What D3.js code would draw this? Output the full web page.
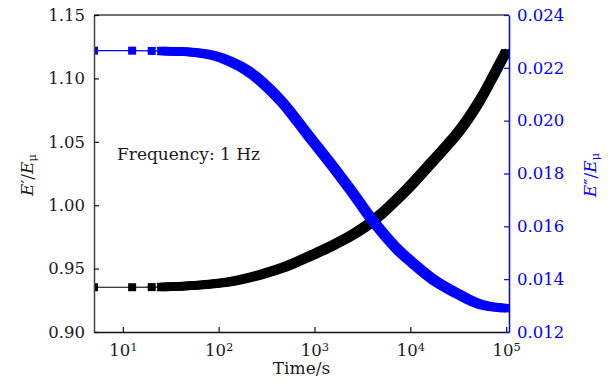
<!DOCTYPE html>
<html>
<head>
<meta charset="utf-8">
<script src="https://cdn.jsdelivr.net/npm/d3@7"></script>
<style>
	body { margin: 0; background: #fff; }
	svg { display: block; font-family: 'DejaVu Serif', serif; }
</style>
</head>
<body>
<div id="chart"></div>
<script>
// data
const times = [5, 12.5, 20, 25, 30, 40, 60, 90, 130, 200, 270, 440, 560, 710, 970, 1460, 1850, 2600, 3500, 5000, 7800, 10000, 17000, 31000, 39000, 54000, 68000, 98000];
const storage = [0.9353, 0.9353, 0.9354, 0.9354, 0.9356, 0.9360, 0.9369, 0.9380, 0.9394, 0.9424, 0.9450, 0.9500, 0.9530, 0.9564, 0.9611, 0.9672, 0.9712, 0.9775, 0.9836, 0.9928, 1.0070, 1.0150, 1.0345, 1.0562, 1.0668, 1.0830, 1.0972, 1.1200];
const loss = [0.02265, 0.02265, 0.02264, 0.02264, 0.02263, 0.02262, 0.02258, 0.02248, 0.02227, 0.02192, 0.02154, 0.0208, 0.02033, 0.01984, 0.0192, 0.0184, 0.0179, 0.0172, 0.0165, 0.0158, 0.0150, 0.01470, 0.01395, 0.01345, 0.01325, 0.01302, 0.01296, 0.0129];

const xTicks = [10, 100, 1000, 10000, 100000];
const leftTicks = [0.90, 0.95, 1.00, 1.05, 1.10, 1.15];
const rightTicks = [0.012, 0.014, 0.016, 0.018, 0.020, 0.022, 0.024];

const width = 614;
const height = 389;
const margin = { top: 15, right: 105, bottom: 57, left: 94 };
const firstBand = 3; // markers before this index are drawn separately
const blue = '#0000ff';
const ink = '#1a1a1a';

const x = d3.scaleLog()
	.domain([5, 107000])
	.range([margin.left, width - margin.right]);

const yLeft = d3.scaleLinear()
	.domain([0.90, 1.15])
	.range([height - margin.bottom, margin.top]);

const yRight = d3.scaleLinear()
	.domain([0.012, 0.024])
	.range([height - margin.bottom, margin.top]);

const svg = d3.select('#chart')
	.append('svg')
	.attr('width', width)
	.attr('height', height);

svg.append('clipPath')
	.attr('id', 'plot-clip')
	.append('rect')
	.attr('x', margin.left)
	.attr('y', margin.top)
	.attr('width', width - margin.left - margin.right)
	.attr('height', height - margin.top - margin.bottom);

// a dense run of square markers looks like a square swept along the curve,
// so the band is stroked a few times with small offsets
const sweep = [[0, 0, 8], [-3.25, -3.25, 2], [3.25, -3.25, 2], [-3.25, 3.25, 2], [3.25, 3.25, 2],
	[0, -3.25, 2], [0, 3.25, 2], [-3.25, 0, 2], [3.25, 0, 2]];

const drawSeries = (values, y, colour) => {
	const pts = times.map((t, i) => ({ t, v: values[i] }));
	const g = svg.append('g')
		.attr('clip-path', 'url(#plot-clip)');

	const line = d3.line()
		.x(d => x(d.t))
		.y(d => y(d.v))
		.curve(d3.curveBasis);

	// thin connector between the sparse early points
	g.append('path')
		.datum(pts.slice(0, firstBand + 1))
		.attr('fill', 'none')
		.attr('stroke', colour)
		.attr('stroke-width', 1.2)
		.attr('d', d3.line().x(d => x(d.t)).y(d => y(d.v)));

	const band = g.append('g');
	sweep.forEach(([dx, dy, w]) => {
		band.append('path')
			.datum(pts.slice(firstBand))
			.attr('transform', `translate(${dx},${dy})`)
			.attr('fill', 'none')
			.attr('stroke', colour)
			.attr('stroke-width', w)
			.attr('stroke-linejoin', 'round')
			.attr('stroke-linecap', 'round')
			.attr('d', line);
	});

	g.selectAll('rect.marker')
		.data(pts.slice(0, firstBand))
		.join('rect')
		.attr('class', 'marker')
		.attr('x', d => x(d.t) - 4)
		.attr('y', d => y(d.v) - 4)
		.attr('width', 8)
		.attr('height', 8)
		.attr('fill', colour);
};

drawSeries(storage, yLeft, '#000');
drawSeries(loss, yRight, blue);

// top frame line
svg.append('line')
	.attr('x1', margin.left)
	.attr('x2', width - margin.right)
	.attr('y1', margin.top)
	.attr('y2', margin.top)
	.attr('stroke', '#444')
	.attr('stroke-width', 1.5);

// bottom axis, log ticks with superscript labels
const xAxis = svg.append('g')
	.attr('transform', `translate(0,${height - margin.bottom})`)
	.call(d3.axisBottom(x)
		.tickValues(xTicks)
		.tickSize(-5)
		.tickSizeOuter(0)
		.tickPadding(12)
		.tickFormat('')
	);
xAxis.select('.domain').attr('stroke', '#111').attr('stroke-width', 1.5);
xAxis.selectAll('.tick line').attr('stroke', '#111').attr('stroke-width', 1.2);
xAxis.selectAll('.tick text')
	.attr('font-size', 16.5)
	.attr('font-family', 'DejaVu Serif')
	.attr('fill', ink)
	.each(function(d) {
		const t = d3.select(this);
		t.append('tspan').text('10');
		t.append('tspan')
			.attr('dy', '-0.4em')
			.attr('font-size', 11.5)
			.text(Math.round(Math.log10(d)));
	});

const leftAxis = svg.append('g')
	.attr('transform', `translate(${margin.left},0)`)
	.call(d3.axisLeft(yLeft)
		.tickValues(leftTicks)
		.tickSize(-5)
		.tickSizeOuter(0)
		.tickPadding(9)
		.tickFormat(d3.format('.2f'))
	);
leftAxis.select('.domain').attr('stroke', '#444').attr('stroke-width', 1.5);
leftAxis.selectAll('.tick line').attr('stroke', '#111').attr('stroke-width', 1.2);
leftAxis.selectAll('.tick text')
	.attr('font-size', 16.5)
	.attr('font-family', 'DejaVu Serif')
	.attr('fill', ink);

const rightAxis = svg.append('g')
	.attr('transform', `translate(${width - margin.right},0)`)
	.call(d3.axisRight(yRight)
		.tickValues(rightTicks)
		.tickSize(-5)
		.tickSizeOuter(0)
		.tickPadding(8)
		.tickFormat(d3.format('.3f'))
	);
rightAxis.select('.domain').attr('stroke', blue).attr('stroke-width', 1.5);
rightAxis.selectAll('.tick line').attr('stroke', blue).attr('stroke-width', 1.2);
rightAxis.selectAll('.tick text')
	.attr('font-size', 16.5)
	.attr('font-family', 'DejaVu Serif')
	.attr('fill', blue);

// axis titles
svg.append('text')
	.attr('x', (margin.left + width - margin.right) / 2)
	.attr('y', 374)
	.attr('text-anchor', 'middle')
	.attr('font-size', 17)
	.attr('fill', ink)
	.text('Time/s');

const yTitle = (xPos, prime, colour) => {
	const t = svg.append('text')
		.attr('transform', `translate(${xPos},175) rotate(-90)`)
		.attr('text-anchor', 'middle')
		.attr('font-size', 17)
		.attr('fill', colour);
	t.append('tspan').attr('font-style', 'italic').text('E');
	t.append('tspan').text(prime + '/');
	t.append('tspan').attr('font-style', 'italic').text('E');
	t.append('tspan')
		.attr('dy', '0.3em')
		.attr('font-size', 11.5)
		.text('μ');
};
yTitle(33, '\u2032', ink);
yTitle(596, '\u2033', blue);

// annotation
svg.append('text')
	.attr('x', 117)
	.attr('y', 159.5)
	.attr('font-size', 17)
	.attr('fill', ink)
	.text('Frequency: 1 Hz');
</script>
</body>
</html>
